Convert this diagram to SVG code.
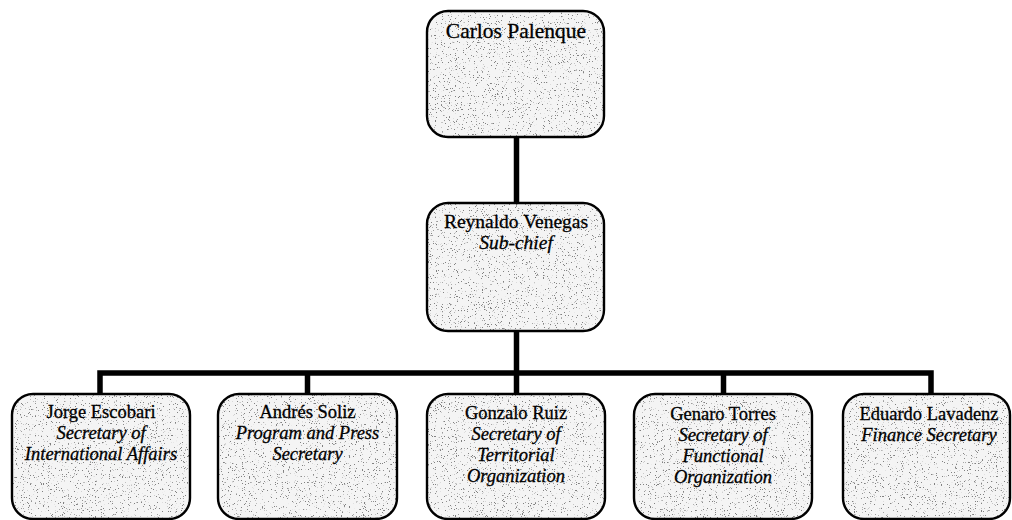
<svg xmlns="http://www.w3.org/2000/svg" width="1012" height="520" viewBox="0 0 1012 520">
  <style>
    .box-fill { fill: #f4f4f4; filter: url(#speckle); }
    .box-edge { fill: none; stroke: #000; stroke-width: 2.4; }
    .name { font-family: "Liberation Serif", "Times New Roman", serif; font-size: 18.5px; fill: #000; stroke: #000; stroke-width: 0.3; text-anchor: middle; }
    .role { font-family: "Liberation Serif", "Times New Roman", serif; font-size: 18.5px; font-style: italic; fill: #000; stroke: #000; stroke-width: 0.3; text-anchor: middle; }
    .link { fill: none; stroke: #000; stroke-width: 5.5; stroke-linejoin: miter; stroke-linecap: butt; }
  </style>
  <defs>
    <!-- grainy grey stipple used inside every box -->
    <filter id="speckle" x="0" y="0" width="100%" height="100%" color-interpolation-filters="sRGB">
      <feTurbulence type="fractalNoise" baseFrequency="0.85" numOctaves="2" seed="7" result="noise"/>
      <feColorMatrix in="noise" type="matrix" values="0 0 0 0 0.5  0 0 0 0 0.5  0 0 0 0 0.5  14 0 0 0 -9.1" result="dots"/>
      <feComposite in="dots" in2="SourceAlpha" operator="in" result="clipped"/>
      <feMerge>
        <feMergeNode in="SourceGraphic"/>
        <feMergeNode in="clipped"/>
      </feMerge>
    </filter>
  </defs>

  <rect width="1012" height="520" fill="#fff"/>

  <!-- connectors -->
  <g id="connectors">
    <path class="link" d="M516.5 137 V203"/>
    <path class="link" d="M516.5 331 V394"/>
    <path class="link" d="M100 394 V373 H931 V394"/>
    <path class="link" d="M307.5 373 V394"/>
    <path class="link" d="M723.5 373 V394"/>
  </g>

  <g id="carlos-palenque">
    <rect class="box-fill" x="427" y="11" width="177" height="126" rx="21"/>
    <rect class="box-edge" x="427" y="11" width="177" height="126" rx="21"/>
    <text class="name" x="516" y="38" style="font-size:21.5px">Carlos Palenque</text>
  </g>

  <g id="reynaldo-venegas">
    <rect class="box-fill" x="427" y="203" width="177" height="128" rx="21"/>
    <rect class="box-edge" x="427" y="203" width="177" height="128" rx="21"/>
    <text class="name" x="516" y="228" style="font-size:19.5px">Reynaldo Venegas</text>
    <text class="role" x="516" y="249" style="font-size:19.5px">Sub-chief</text>
  </g>

  <g id="jorge-escobari">
    <rect class="box-fill" x="12" y="394" width="178" height="125" rx="21"/>
    <rect class="box-edge" x="12" y="394" width="178" height="125" rx="21"/>
    <text class="name" x="101" y="418">Jorge Escobari</text>
    <text class="role" x="101" y="439">Secretary of</text>
    <text class="role" x="101" y="460">International Affairs</text>
  </g>

  <g id="andres-soliz">
    <rect class="box-fill" x="218" y="394" width="179" height="125" rx="21"/>
    <rect class="box-edge" x="218" y="394" width="179" height="125" rx="21"/>
    <text class="name" x="307.5" y="418">Andrés Soliz</text>
    <text class="role" x="307.5" y="439">Program and Press</text>
    <text class="role" x="307.5" y="460">Secretary</text>
  </g>

  <g id="gonzalo-ruiz">
    <rect class="box-fill" x="427" y="394" width="178" height="125" rx="21"/>
    <rect class="box-edge" x="427" y="394" width="178" height="125" rx="21"/>
    <text class="name" x="516" y="419">Gonzalo Ruiz</text>
    <text class="role" x="516" y="440">Secretary of</text>
    <text class="role" x="516" y="461">Territorial</text>
    <text class="role" x="516" y="482">Organization</text>
  </g>

  <g id="genaro-torres">
    <rect class="box-fill" x="634" y="394" width="178" height="125" rx="21"/>
    <rect class="box-edge" x="634" y="394" width="178" height="125" rx="21"/>
    <text class="name" x="723" y="420">Genaro Torres</text>
    <text class="role" x="723" y="441">Secretary of</text>
    <text class="role" x="723" y="462">Functional</text>
    <text class="role" x="723" y="483">Organization</text>
  </g>

  <g id="eduardo-lavadenz">
    <rect class="box-fill" x="843" y="394" width="167" height="125" rx="21"/>
    <rect class="box-edge" x="843" y="394" width="167" height="125" rx="21"/>
    <text class="name" x="929" y="420">Eduardo Lavadenz</text>
    <text class="role" x="929" y="441">Finance Secretary</text>
  </g>
</svg>
